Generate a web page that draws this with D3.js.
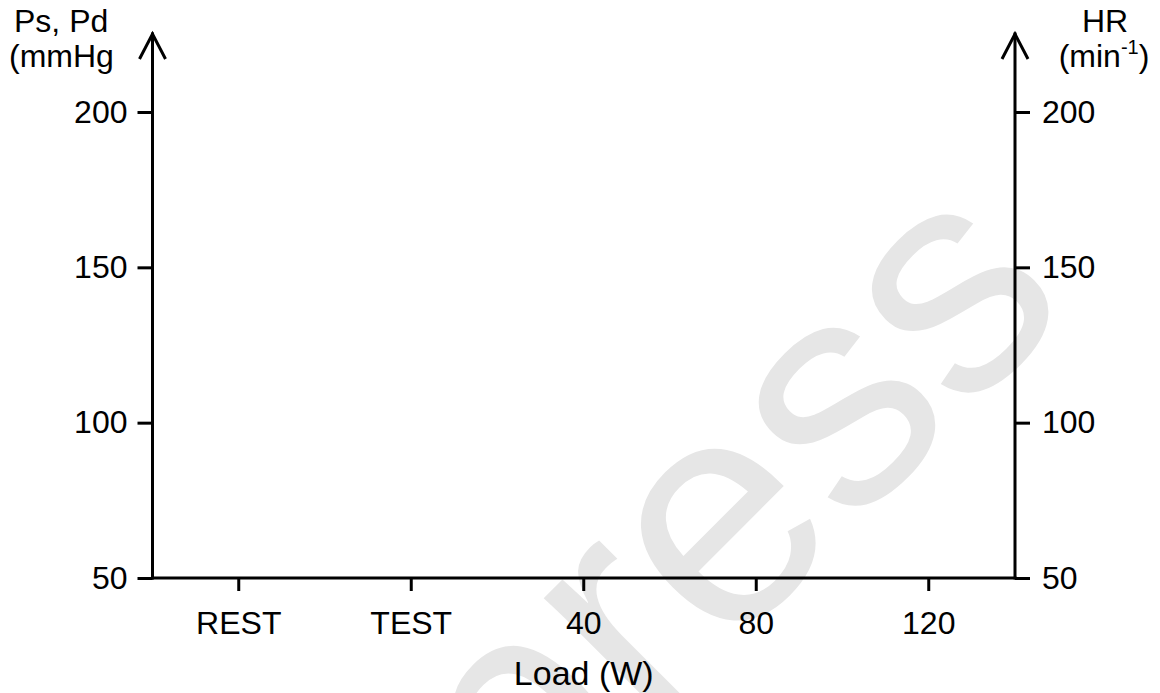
<!DOCTYPE html>
<html>
<head>
<meta charset="utf-8">
<script src="https://cdn.jsdelivr.net/npm/d3@7"></script>
<style>
  body { margin: 0; background: #fff; }
  text { font-family: Arial, "Liberation Sans", sans-serif; }
</style>
</head>
<body>
<script>
var categories = ["REST", "TEST", "40", "80", "120"];
var pressureTicks = [50, 100, 150, 200];
var hrTicks = [50, 100, 150, 200];
var pressureDomain = [50, 200];
var hrDomain = [50, 200];

var width = 1160, height = 693;
var plotLeft = 152.5, plotRight = 1015, plotTop = 112, plotBottom = 578;

var svg = d3.select("body").append("svg")
    .attr("width", width).attr("height", height);

// faint watermark behind the chart
svg.append("text")
    .attr("transform", "translate(799,582) rotate(-45)")
    .attr("text-anchor", "middle")
    .style("font-size", "320px")
    .attr("fill", "#e6e6e6")
    .text("press");

var x = d3.scaleBand().domain(categories).range([plotLeft, plotRight]);
var y = d3.scaleLinear().domain(pressureDomain).range([plotBottom, plotTop]);
var yHR = d3.scaleLinear().domain(hrDomain).range([plotBottom, plotTop]);

var xAxis = svg.append("g")
    .attr("transform", "translate(0," + plotBottom + ")")
    .call(d3.axisBottom(x).tickSize(13).tickPadding(20).tickSizeOuter(0));

var yAxis = svg.append("g")
    .attr("transform", "translate(" + plotLeft + ",0)")
    .call(d3.axisLeft(y).tickValues(pressureTicks).tickSize(15).tickPadding(10));

var hrAxis = svg.append("g")
    .attr("transform", "translate(" + plotRight + ",0)")
    .call(d3.axisRight(yHR).tickValues(hrTicks).tickSize(15).tickPadding(12));

[xAxis, yAxis, hrAxis].forEach(function(g) {
    g.select(".domain").remove();
    g.selectAll(".tick line").attr("stroke", "#000").attr("stroke-width", 3);
    g.selectAll(".tick text").attr("fill", "#000").style("font-size", "32px");
});

// axis lines with open arrow heads
var axisLines = svg.append("g").attr("stroke", "#000").attr("stroke-width", 3)
    .attr("fill", "none").attr("stroke-linecap", "square");
axisLines.append("line").attr("x1", plotLeft).attr("x2", plotRight)
    .attr("y1", plotBottom).attr("y2", plotBottom);
[plotLeft, plotRight].forEach(function(ax) {
    axisLines.append("line").attr("x1", ax).attr("x2", ax)
        .attr("y1", plotBottom).attr("y2", 34);
    axisLines.append("path")
        .attr("stroke-linecap", "butt")
        .attr("d", "M" + (ax - 13) + ",59L" + ax + ",34L" + (ax + 13) + ",59");
});

// titles
svg.append("text").attr("x", 14).attr("y", 32).style("font-size", "32px").text("Ps, Pd");
svg.append("text").attr("x", 9).attr("y", 67).style("font-size", "32px").text("(mmHg");

svg.append("text").attr("x", 1105).attr("y", 32).attr("text-anchor", "middle")
    .style("font-size", "32px").text("HR");
var hr = svg.append("text").attr("x", 1104).attr("y", 67).attr("text-anchor", "middle")
    .style("font-size", "32px");
hr.append("tspan").text("(min");
hr.append("tspan").attr("dy", -13).style("font-size", "20px").text("-1");
hr.append("tspan").attr("dy", 13).text(")");

svg.append("text").attr("x", (plotLeft + plotRight) / 2).attr("y", 685)
    .attr("text-anchor", "middle").style("font-size", "34px").text("Load (W)");
</script>
</body>
</html>
